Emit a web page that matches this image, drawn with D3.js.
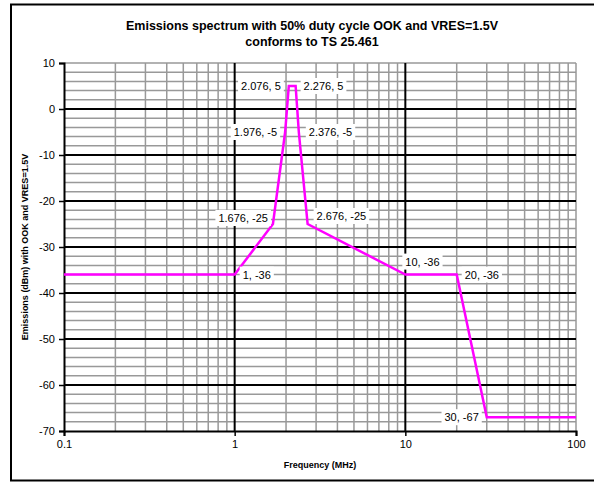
<!DOCTYPE html>
<html>
<head>
<meta charset="utf-8">
<script src="https://d3js.org/d3.v7.min.js"></script>
<style>
  body { margin: 0; background: #fff; }
  text { font-family: "Liberation Sans", Arial, sans-serif; }
</style>
</head>
<body>
<script>
// spectrum points (MHz, dBm)
const freqs = [0.1, 1, 1.676, 1.976, 2.076, 2.276, 2.376, 2.676, 10, 20, 30, 100]
const levels = [-36, -36, -25, -5, 5, 5, -5, -25, -36, -36, -67, -67]
// which points get a data label, and where it sits
const labelled = [1, 2, 3, 4, 5, 6, 7, 8, 9, 10]
const labelSide = ["", "right", "left-up", "left", "left", "right", "right", "right-up", "up", "right", "left"]

const yTicks = [10, 0, -10, -20, -30, -40, -50, -60, -70]
const xTicks = [0.1, 1, 10, 100]

const W = 594, H = 482
const margin = { left: 64, right: 18, top: 63, bottom: 51 }

const svg = d3.select("body").append("svg")
  .attr("width", W)
  .attr("height", H)

// outer frame runs off the right edge of the picture
svg.append("rect")
  .attr("x", 11).attr("y", 4.5)
  .attr("width", 600).attr("height", 476)
  .attr("fill", "#fff")
  .attr("stroke", "#000")
  .attr("stroke-width", 2)

const x = d3.scaleLog().domain([0.1, 100]).range([margin.left, W - margin.right])
const y = d3.scaleLinear().domain([-70, 10]).range([H - margin.bottom, margin.top])

// minor grid
const minorX = []
for (const dec of [0.1, 1, 10]) {
  for (let k = 2; k <= 9; k++) minorX.push(dec * k)
}
const minorY = d3.range(-70, 11, 2).filter(v => v % 10 != 0)

const grid = svg.append("g")
grid.selectAll(".mx").data(minorX).join("line")
  .attr("x1", d => x(d)).attr("x2", d => x(d))
  .attr("y1", y(10)).attr("y2", y(-70))
  .attr("stroke", "#999").attr("stroke-width", 1.5)
grid.selectAll(".my").data(minorY).join("line")
  .attr("x1", x(0.1)).attr("x2", x(100))
  .attr("y1", d => y(d)).attr("y2", d => y(d))
  .attr("stroke", "#999").attr("stroke-width", 1.5)
// top and right edges are gray
grid.append("line")
  .attr("x1", x(0.1)).attr("x2", x(100))
  .attr("y1", y(10)).attr("y2", y(10))
  .attr("stroke", "#999").attr("stroke-width", 1.5)
grid.append("line")
  .attr("x1", x(100)).attr("x2", x(100))
  .attr("y1", y(10)).attr("y2", y(-70))
  .attr("stroke", "#999").attr("stroke-width", 1.5)

// major grid
grid.selectAll(".My").data(yTicks.filter(v => v != 10 && v != -70)).join("line")
  .attr("x1", x(0.1)).attr("x2", x(100))
  .attr("y1", d => y(d)).attr("y2", d => y(d))
  .attr("stroke", "#000").attr("stroke-width", 2)
grid.selectAll(".Mx").data([1, 10]).join("line")
  .attr("x1", d => x(d)).attr("x2", d => x(d))
  .attr("y1", y(10)).attr("y2", y(-70))
  .attr("stroke", "#000").attr("stroke-width", 2)

// axes
const yAxis = svg.append("g")
  .attr("transform", `translate(${x(0.1)},0)`)
  .call(d3.axisLeft(y).tickValues(yTicks).tickSize(5).tickPadding(4).tickFormat(d => String(d)))
const xAxis = svg.append("g")
  .attr("transform", `translate(0,${y(-70)})`)
  .call(d3.axisBottom(x).tickValues(xTicks).tickSize(5).tickPadding(4).tickFormat(d => String(d)))

for (const ax of [xAxis, yAxis]) {
  ax.select(".domain").attr("stroke-width", 2)
  ax.selectAll(".tick line").attr("stroke-width", 1.5)
  ax.selectAll("text")
    .attr("font-family", "Liberation Sans, Arial, sans-serif")
    .attr("font-size", 11)
    .attr("fill", "#000")
}

// spectrum line
const pts = freqs.map((f, i) => [f, levels[i]])
const line = d3.line().x(d => x(d[0])).y(d => y(d[1]))
svg.append("path")
  .datum(pts)
  .attr("d", line)
  .attr("fill", "none")
  .attr("stroke", "#ff00ff")
  .attr("stroke-width", 2.5)

// data labels
const labG = svg.append("g")
labelled.forEach(i => {
  const px = x(freqs[i]), py = y(levels[i])
  const txt = `${freqs[i]}, ${levels[i]}`
  const side = labelSide[i]
  const g = labG.append("g")
  const t = g.append("text")
    .text(txt)
    .attr("font-size", 11)
    .attr("dominant-baseline", "central")
  const bw = t.node().getComputedTextLength() + 6
  let lx, ly
  if (side == "right") { lx = px + 5; ly = py }
  else if (side == "left") { lx = px - 5 - bw; ly = py }
  else if (side == "left-up") { lx = px - 2 - bw; ly = py - 6 }
  else if (side == "right-up") { lx = px + 6; ly = py - 8 }
  else { lx = px - 3; ly = py - 13 }
  if (i == 6) lx = px + 7
  g.insert("rect", "text")
    .attr("x", lx).attr("y", ly - 8)
    .attr("width", bw).attr("height", 16)
    .attr("fill", "#fff")
  t.attr("x", lx + 3).attr("y", ly)
})

// titles
const title = svg.append("text")
  .attr("x", 312).attr("y", 30)
  .attr("text-anchor", "middle")
  .attr("font-size", 12.5)
  .attr("font-weight", "bold")
title.append("tspan").attr("x", 312).text("Emissions spectrum with 50% duty cycle OOK and VRES=1.5V")
title.append("tspan").attr("x", 312).attr("dy", 16).text("conforms to TS 25.461")

svg.append("text")
  .attr("x", (x(0.1) + x(100)) / 2).attr("y", 468)
  .attr("text-anchor", "middle")
  .attr("font-size", 9)
  .attr("font-weight", "bold")
  .text("Frequency (MHz)")

svg.append("text")
  .attr("transform", `translate(28,${(y(10) + y(-70)) / 2}) rotate(-90)`)
  .attr("text-anchor", "middle")
  .attr("font-size", 9)
  .attr("font-weight", "bold")
  .text("Emissions (dBm) with OOK and VRES=1.5V")
</script>
</body>
</html>
